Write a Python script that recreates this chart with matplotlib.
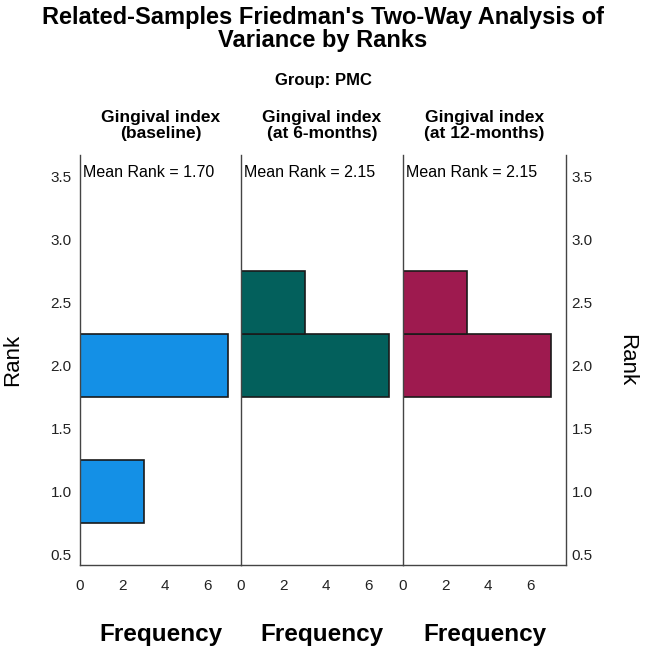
import matplotlib.pyplot as plt

plt.rcParams['font.family'] = ['Liberation Sans', 'DejaVu Sans']

# data
panel_titles = ["Gingival index\n(baseline)", "Gingival index\n(at 6-months)", "Gingival index\n(at 12-months)"]
mean_ranks = [1.70, 2.15, 2.15]
ranks = [[1.0, 2.0], [2.0, 2.5], [2.0, 2.5]]
freqs = [[3, 7], [7, 3], [7, 3]]
colors = ["#1490E6", "#03605C", "#9E1A4F"]
yticks = [0.5, 1.0, 1.5, 2.0, 2.5, 3.0, 3.5]
xticks = [0, 2, 4, 6]

W, H = 646, 647
fig = plt.figure(figsize=(W / 100, H / 100), dpi=100)

fig.text(0.5, 1 - 29 / H, "Related-Samples Friedman's Two-Way Analysis of\nVariance by Ranks",
         ha='center', va='center', fontsize=17, fontweight='bold', linespacing=1.05)
fig.text(0.5, 1 - 80 / H, "Group: PMC", ha='center', va='center', fontsize=12, fontweight='bold')

lefts = [80, 241, 403]
widths = [161, 162, 163]
top, bottom = 155, 565
axes = []
for i in range(3):
    ax = fig.add_axes([lefts[i] / W, (H - bottom) / H, widths[i] / W, (bottom - top) / H])
    ax.barh(ranks[i], freqs[i], height=0.5, color=colors[i], edgecolor='#1a1a1a', linewidth=1.2)
    ax.set_xlim(0, 7.6 * widths[i] / 161)
    ax.set_ylim(0.42, 3.67)
    ax.set_xticks(xticks)
    ax.set_yticks(yticks)
    ax.tick_params(length=0, labelsize=11, colors='#222222', pad=10)
    ax.spines['top'].set_visible(False)
    ax.spines['right'].set_visible(i == 2)
    for s in ax.spines.values():
        s.set_color('#444444')
        s.set_linewidth(1)
    ax.set_title(panel_titles[i], fontsize=12.5, fontweight='bold', pad=12, linespacing=1.15)
    ax.text(0.02, 0.975, "Mean Rank = %.2f" % mean_ranks[i], transform=ax.transAxes,
            ha='left', va='top', fontsize=11.5)
    ax.set_xlabel("Frequency", fontsize=17.5, fontweight='bold', labelpad=22)
    if i == 0:
        ax.tick_params(axis='y', pad=6)
        ax.set_ylabel("Rank", fontsize=16, labelpad=20)
    elif i == 2:
        ax.yaxis.tick_right()
        ax.tick_params(axis='y', pad=4, labelleft=False)
        ax.yaxis.set_label_position('right')
        ax.set_ylabel("Rank", fontsize=16, rotation=270, labelpad=32)
    else:
        ax.tick_params(axis='y', labelleft=False)
    axes.append(ax)

fig.savefig("out.png", dpi=100)
